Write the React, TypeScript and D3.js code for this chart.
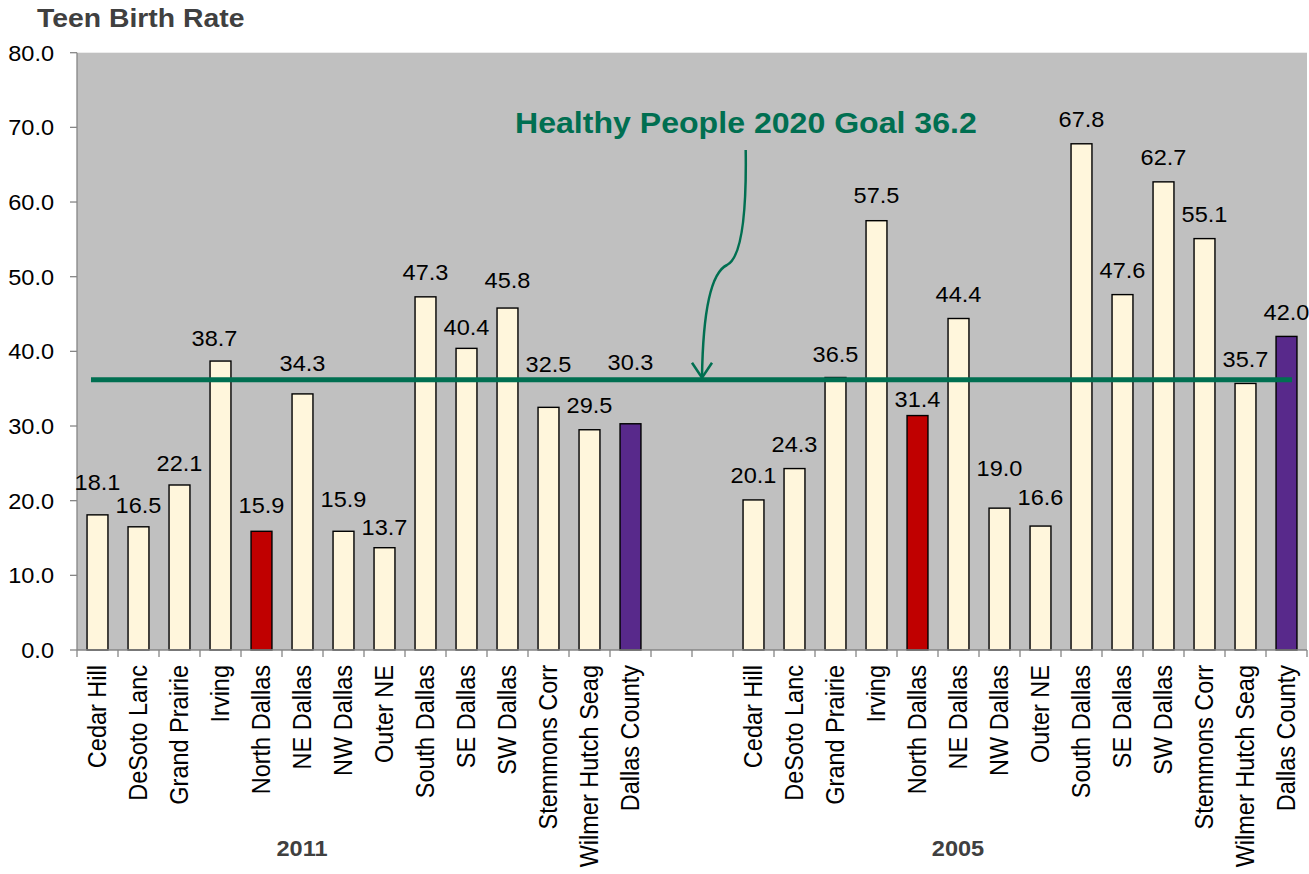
import React from "react";
import * as d3 from "d3";

// ---------- data ----------
const categories = [
  "Cedar Hill",
  "DeSoto Lanc",
  "Grand Prairie",
  "Irving",
  "North Dallas",
  "NE Dallas",
  "NW Dallas",
  "Outer NE",
  "South Dallas",
  "SE Dallas",
  "SW Dallas",
  "Stemmons Corr",
  "Wilmer Hutch Seag",
  "Dallas County",
];
const years = ["2011", "2005"];
const values2011 = [18.1, 16.5, 22.1, 38.7, 15.9, 34.3, 15.9, 13.7, 47.3, 40.4, 45.8, 32.5, 29.5, 30.3];
const values2005 = [20.1, 24.3, 36.5, 57.5, 31.4, 44.4, 19.0, 16.6, 67.8, 47.6, 62.7, 55.1, 35.7, 42.0];
const yTicks = [0, 10, 20, 30, 40, 50, 60, 70, 80];
const goalValue = 36.2;
const goalText = "Healthy People 2020 Goal 36.2";
const titleText = "Teen Birth Rate";

// label layout (pixel gap between bar top and label baseline, as placed in the original)
const labelGap2011 = [25, 14, 14, 15, 18, 23, 24, 13, 17, 13, 20, 35, 17, 54];
const labelGap2005 = [17, 17, 15.5, 18, 8.5, 16.5, 32, 21, 17, 17, 17, 17, 16.5, 16.5];
const labelDx2011 = [0, 0, 0, -6, 0, 0, 0, 0, 0, 0, 0, 0, 0, 0];
const labelDx2005 = [0, 0, 0, 0, 0, 0, 0, 0, 0, 0, 0, 0, 0, 0];

// ---------- styles ----------
const FONT = "'Liberation Sans', Arial, Helvetica, sans-serif";
const SX = 1.07;
const CREAM = "#fff6dc";
const RED = "#c00000";
const PURPLE = "#58298b";
const GREEN = "#006f51";
const PLOT_BG = "#c0c0c0";
const AXIS = "#868686";

const W = 1309;
const H = 874;
const left = 77;
const right = 1307;
const top = 52.7;
const bottom = 650;

type Row = { key: string; cat: string; year: string; value: number | null; gap: number; dx: number };

const rows: Row[] = [];
categories.forEach((c, i) =>
  rows.push({ key: `2011|${c}`, cat: c, year: "2011", value: values2011[i], gap: labelGap2011[i], dx: labelDx2011[i] })
);
rows.push({ key: "gap1", cat: "", year: "", value: null, gap: 0, dx: 0 });
rows.push({ key: "gap2", cat: "", year: "", value: null, gap: 0, dx: 0 });
categories.forEach((c, i) =>
  rows.push({ key: `2005|${c}`, cat: c, year: "2005", value: values2005[i], gap: labelGap2005[i], dx: labelDx2005[i] })
);

function barColor(cat: string) {
  if (cat === "North Dallas") return RED;
  if (cat === "Dallas County") return PURPLE;
  return CREAM;
}

function T(props: {
  x: number;
  y: number;
  size: number;
  anchor?: string;
  weight?: string | number;
  fill?: string;
  rotate?: number;
  children: React.ReactNode;
}) {
  const { x, y, size, anchor = "start", weight = "normal", fill = "#000", rotate, children } = props;
  return (
    <text
      transform={`translate(${x},${y}) scale(${SX},1)${rotate ? ` rotate(${rotate})` : ""}`}
      fontFamily={FONT}
      fontSize={size}
      fontWeight={weight}
      fill={fill}
      textAnchor={anchor}
    >
      {children}
    </text>
  );
}

export default function App() {
  const x = d3
    .scaleBand<string>()
    .domain(rows.map((r) => r.key))
    .range([left, right])
    .paddingInner(0.49)
    .paddingOuter(0.245);
  const y = d3.scaleLinear().domain([0, 80]).range([bottom, top]);
  const step = x.step();
  const bw = x.bandwidth();
  const fmt = d3.format(".1f");
  const center = (k: string) => (x(k) as number) + bw / 2;

  const boundaries = d3.range(rows.length + 1).map((i) => left + i * step);

  const groupCenter = (yr: string) => {
    const ks = rows.filter((r) => r.year === yr).map((r) => center(r.key));
    return (d3.min(ks)! + d3.max(ks)!) / 2;
  };

  const gy = y(goalValue);
  const tipX = 702;
  const tipY = gy - 2;
  const arrowPath = `M745.7,150 C746.5,205 743,257 727,265 C712,272 703,305 ${tipX},${tipY}`;

  return (
    <svg
      width={W}
      height={H}
      style={{ position: "absolute", left: 0, top: 0, background: "#fff" }}
    >
      {/* plot background */}
      <rect x={left} y={top} width={right - left} height={bottom - top} fill={PLOT_BG} />

      {/* title */}
      <T x={37} y={27} size={26.5} weight="bold" fill="#404040">
        {titleText}
      </T>

      {/* bars */}
      {rows
        .filter((r) => r.value !== null)
        .map((r) => (
          <rect
            key={r.key}
            x={x(r.key)}
            y={y(r.value as number)}
            width={bw}
            height={bottom - y(r.value as number)}
            fill={barColor(r.cat)}
            stroke="#000"
            strokeWidth={1.4}
          />
        ))}

      {/* y axis */}
      <line x1={left} x2={left} y1={top} y2={bottom} stroke={AXIS} strokeWidth={1.3} />
      {yTicks.map((t) => (
        <g key={t}>
          <line x1={left - 7} x2={left} y1={y(t)} y2={y(t)} stroke={AXIS} strokeWidth={1.3} />
          <T x={54} y={y(t) + 8} size={22} anchor="end">
            {fmt(t)}
          </T>
        </g>
      ))}

      {/* x axis */}
      <line x1={left} x2={right} y1={bottom} y2={bottom} stroke={AXIS} strokeWidth={1.3} />
      {boundaries.map((bx, i) => (
        <line key={i} x1={bx} x2={bx} y1={bottom} y2={bottom + 7} stroke={AXIS} strokeWidth={1.3} />
      ))}
      {rows
        .filter((r) => r.value !== null)
        .map((r) => (
          <T key={r.key} x={center(r.key) + 8.5} y={665} size={23.5} anchor="end" rotate={-90}>
            {r.cat}
          </T>
        ))}
      {years.map((yr) => (
        <T key={yr} x={groupCenter(yr) - 62} y={856} size={22} weight="bold" anchor="middle" fill="#404040">
          {yr}
        </T>
      ))}

      {/* goal line */}
      <line x1={91} x2={1292} y1={gy} y2={gy} stroke={GREEN} strokeWidth={5} />

      {/* value labels */}
      {rows
        .filter((r) => r.value !== null)
        .map((r) => (
          <T key={r.key} x={center(r.key) + r.dx} y={y(r.value as number) - r.gap} size={22} anchor="middle">
            {fmt(r.value as number)}
          </T>
        ))}

      {/* annotation */}
      <T x={515} y={133} size={30} weight="bold" fill={GREEN}>
        {goalText}
      </T>
      <path d={arrowPath} fill="none" stroke={GREEN} strokeWidth={2.5} />
      <path
        d={`M${tipX - 10},${tipY - 15} L${tipX},${tipY} L${tipX + 10},${tipY - 15}`}
        fill="none"
        stroke={GREEN}
        strokeWidth={2.5}
      />
    </svg>
  );
}
